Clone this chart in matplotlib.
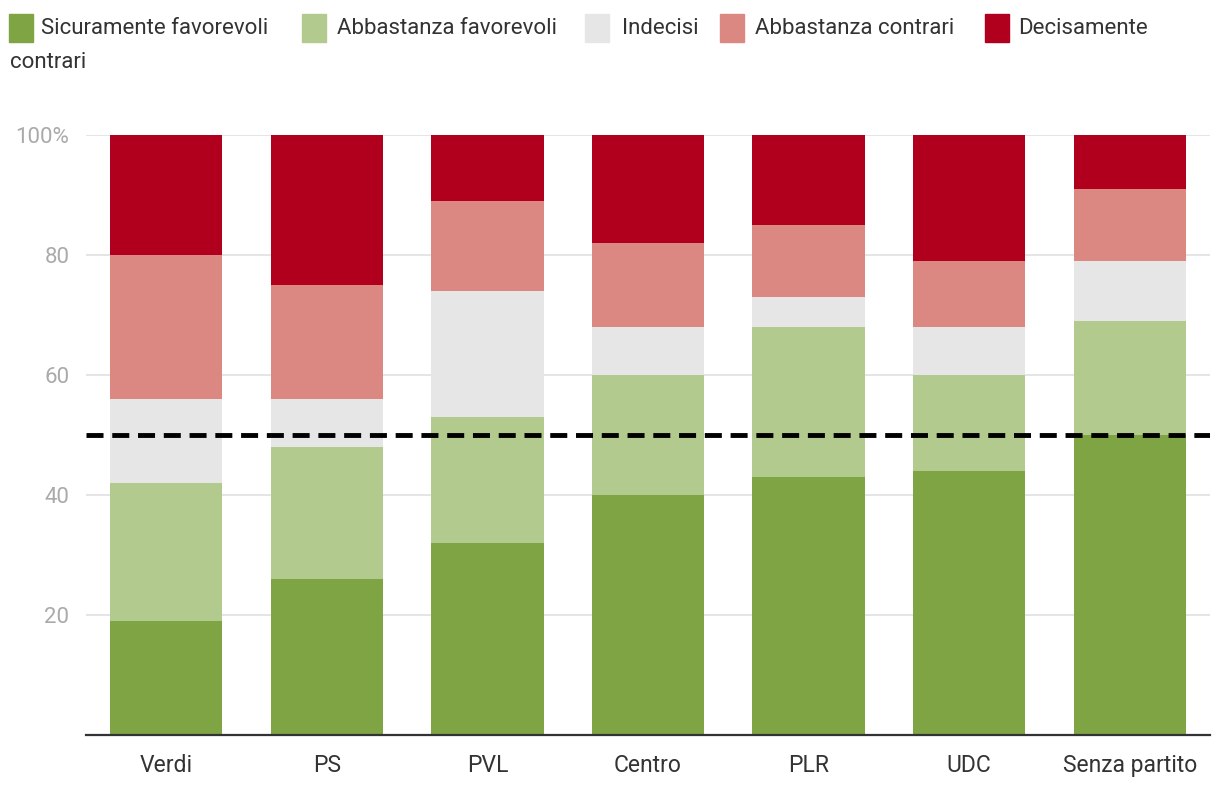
import matplotlib
matplotlib.use("Agg")
import matplotlib.pyplot as plt
from matplotlib.patches import Rectangle
import numpy as np

plt.rcParams['font.family'] = ['Roboto', 'DejaVu Sans']

categories = ["Verdi", "PS", "PVL", "Centro", "PLR", "UDC", "Senza partito"]
series_names = ["Sicuramente favorevoli", "Abbastanza favorevoli", "Indecisi",
                "Abbastanza contrari", "Decisamente contrari"]
sicuramente_favorevoli = [19, 26, 32, 40, 43, 44, 50]
abbastanza_favorevoli = [23, 22, 21, 20, 25, 16, 19]
indecisi = [14, 8, 21, 8, 5, 8, 10]
abbastanza_contrari = [24, 19, 15, 14, 12, 11, 12]
decisamente_contrari = [20, 25, 11, 18, 15, 21, 9]
threshold = 50
yticks = [20, 40, 60, 80, 100]
ytick_labels = ["20", "40", "60", "80", "100%"]

colors = ["#7fa443", "#b3ca8f", "#e6e6e6", "#db8883", "#b1001e"]
series = [sicuramente_favorevoli, abbastanza_favorevoli, indecisi,
          abbastanza_contrari, decisamente_contrari]

W, H = 1220, 792
fig = plt.figure(figsize=(W / 100, H / 100), dpi=100)
ax = fig.add_axes([86 / W, (H - 735) / H, (1210 - 86) / W, (735 - 135) / H])

x = np.arange(len(categories))
bottom = np.zeros(len(categories))
for vals, col in zip(series, colors):
    ax.bar(x, vals, bottom=bottom, width=0.7, color=col, zorder=2, linewidth=0)
    bottom += np.array(vals)

ax.set_xlim(-0.5, len(categories) - 0.5)
ax.set_ylim(0, 100)
ax.set_yticks(yticks)
ax.set_yticklabels(ytick_labels)
ax.set_xticks(x)
ax.set_xticklabels(categories)
ax.grid(axis='y', color='#e0e0e0', linewidth=1.2, zorder=0)
ax.tick_params(axis='y', length=0, pad=12, labelsize=16, labelcolor='#aaaaaa')
ax.tick_params(axis='x', length=0, pad=14, labelsize=16.5, labelcolor='#333333')
for s in ['top', 'right', 'left']:
    ax.spines[s].set_visible(False)
ax.spines['bottom'].set_color('#333333')
ax.spines['bottom'].set_linewidth(1.6)
ax.spines['bottom'].set_zorder(4)

ax.axhline(threshold, color='black', linewidth=3.5, linestyle=(0, (3.5, 1.8)), zorder=5)

# legend
leg_items = [(9, 41), (302, 337), (585, 622), (720, 755), (985, 1018)]
for (sx, tx), name, col in zip(leg_items, series_names, colors):
    fig.patches.append(Rectangle((sx / W, (H - 42) / H), 24 / W, 28 / H,
                                 transform=fig.transFigure, color=col, figure=fig))
    label = name
    if name == "Decisamente contrari":
        label = "Decisamente"
    fig.text(tx / W, (H - 28) / H, label, fontsize=16, color='#333333',
             va='center', ha='left')
fig.text(10 / W, (H - 62) / H, "contrari", fontsize=16, color='#333333',
         va='center', ha='left')

fig.savefig("out.png", dpi=100)
